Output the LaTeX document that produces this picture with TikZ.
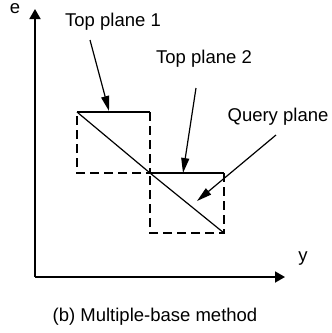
\documentclass[tikz,border=0pt]{standalone}
\usepackage{fontspec}
\setmainfont{Liberation Sans}
\usetikzlibrary{arrows.meta}
\begin{document}
\begin{tikzpicture}[x=1pt,y=-1pt,
  axis/.style={line width=1.8pt,-{Triangle[length=10pt,width=11pt]}},
  leader/.style={line width=1.2pt,-{Triangle[length=15pt,width=8pt]}},
  solidedge/.style={line width=1.2pt},
  dashedge/.style={line width=1.2pt,dash pattern=on 9pt off 5pt},
  lbl/.style={inner sep=0pt,font=\fontsize{18.5}{22}\selectfont}]
\useasboundingbox (0,0) rectangle (332,333);
% axes
\coordinate (o) at (35,277);
\coordinate (etip) at (35,9);
\coordinate (ytip) at (285,277);
\draw[axis] (o) -- (etip);
\draw[axis] (o) -- (ytip);
\node[lbl] (e) at (15,9) {e};
\node[lbl] (y) at (303,259) {y};
% box 1
\coordinate (a1) at (77,112);
\coordinate (b1) at (150,112);
\coordinate (c1) at (150,173);
\coordinate (d1) at (77,173);
\draw[solidedge] (a1) -- (b1);
\draw[dashedge] (b1) -- (c1) -- (d1) -- (a1);
\draw[solidedge] (a1) -- (c1);
% box 2
\coordinate (a2) at (150,173);
\coordinate (b2) at (224,173);
\coordinate (c2) at (224,233);
\coordinate (d2) at (150,233);
\draw[solidedge] (a2) -- (b2);
\draw[dashedge] (b2) -- (c2) -- (d2) -- (a2);
\draw[solidedge] (a2) -- (c2);
% labels
\node[lbl] (t1) at (113,22) {Top plane 1};
\node[lbl] (t2) at (204,59) {Top plane 2};
\node[lbl] (q) at (278,117) {Query plane};
\coordinate (s1) at (90,40);
\coordinate (e1) at (109,111);
\coordinate (s2) at (196,88);
\coordinate (e2) at (183,173);
\coordinate (s3) at (276,135);
\coordinate (e3) at (197,201);
\draw[leader] (s1) -- (e1);
\draw[leader] (s2) -- (e2);
\draw[leader] (s3) -- (e3);
\node[lbl] (cap) at (155,317) {(b) Multiple-base method};
\end{tikzpicture}
\end{document}
